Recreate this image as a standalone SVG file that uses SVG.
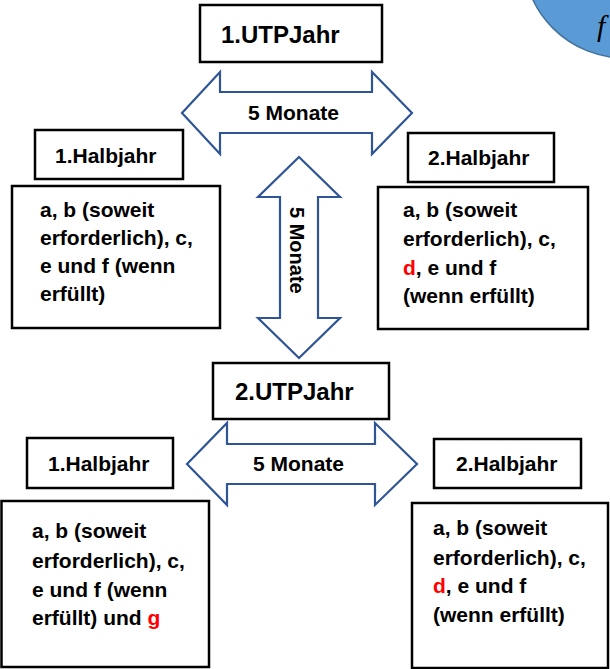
<svg xmlns="http://www.w3.org/2000/svg" width="610" height="669" viewBox="0 0 610 669">
<style>
.box{fill:#fff;stroke:#000;stroke-width:2.5}
.arr{fill:#fff;stroke:#2F5597;stroke-width:2.2;stroke-linejoin:miter}
text{font-family:"Liberation Sans",Arial,sans-serif;font-weight:bold;fill:#000}
.t{font-size:21px}
.big{font-size:24px}
.red{fill:#FF0000}
</style>
<rect width="610" height="669" fill="#fff"/>
<g id="deco">
<circle cx="625" cy="-44" r="102" fill="#5B9BD5" stroke="#41719C" stroke-width="1.5"/>
<text x="597" y="36" style="font-family:'Liberation Serif','DejaVu Serif',serif;font-style:italic;font-weight:normal;font-size:30px">f</text>
</g>
<g id="connectors">
<path class="arr" d="M182,113 L220,72 L220,92 L372,92 L372,72 L412,113 L372,154 L372,133 L220,133 L220,154 Z"/>
<text class="t" x="248" y="120">5 Monate</text>
<path class="arr" d="M299,157 L340,197 L318,197 L318,318 L340,318 L299,358 L258,318 L280,318 L280,197 L258,197 Z"/>
<text class="t" style="font-size:20px" transform="translate(290,207) rotate(90)">5 Monate</text>
<path class="arr" d="M187,464 L227,423 L227,444 L375,444 L375,423 L417,464 L375,505 L375,484 L227,484 L227,505 Z"/>
<text class="t" x="253" y="471">5 Monate</text>
</g>
<g id="utp1">
<rect class="box" x="200" y="5" width="182" height="57"/>
<text class="big" x="221" y="43">1.UTPJahr</text>
</g>
<g id="hj1-top">
<rect class="box" x="35" y="130" width="148" height="49"/>
<text class="t" x="55" y="163">1.Halbjahr</text>
</g>
<g id="hj2-top">
<rect class="box" x="408" y="133" width="146" height="49"/>
<text class="t" x="428" y="165">2.Halbjahr</text>
</g>
<g id="content1-top">
<rect class="box" x="12" y="186" width="208" height="142"/>
<text class="t" x="40" y="217">a, b (soweit</text>
<text class="t" x="40" y="245">erforderlich), c,</text>
<text class="t" x="40" y="273">e und f (wenn</text>
<text class="t" x="40" y="301">erfüllt)</text>
</g>
<g id="content2-top">
<rect class="box" x="378" y="187" width="210" height="142"/>
<text class="t" x="403" y="217">a, b (soweit</text>
<text class="t" x="403" y="246">erforderlich), c,</text>
<text class="t" x="403" y="275"><tspan class="red">d</tspan>, e und f</text>
<text class="t" x="403" y="303">(wenn erfüllt)</text>
</g>
<g id="utp2">
<rect class="box" x="213" y="363" width="176" height="56"/>
<text class="big" x="235" y="400">2.UTPJahr</text>
</g>
<g id="hj1-bottom">
<rect class="box" x="27" y="438" width="146" height="50"/>
<text class="t" x="48" y="471">1.Halbjahr</text>
</g>
<g id="hj2-bottom">
<rect class="box" x="434" y="439" width="147" height="49"/>
<text class="t" x="456" y="471">2.Halbjahr</text>
</g>
<g id="content1-bottom">
<rect class="box" x="1.5" y="501" width="207.5" height="166"/>
<text class="t" x="32" y="538">a, b (soweit</text>
<text class="t" x="32" y="568">erforderlich), c,</text>
<text class="t" x="32" y="597">e und f (wenn</text>
<text class="t" x="32" y="625">erfüllt) und <tspan class="red">g</tspan></text>
</g>
<g id="content2-bottom">
<rect class="box" x="412" y="503" width="196" height="165"/>
<text class="t" x="433" y="535">a, b (soweit</text>
<text class="t" x="433" y="565">erforderlich), c,</text>
<text class="t" x="433" y="593"><tspan class="red">d</tspan>, e und f</text>
<text class="t" x="433" y="622">(wenn erfüllt)</text>
</g>
</svg>
